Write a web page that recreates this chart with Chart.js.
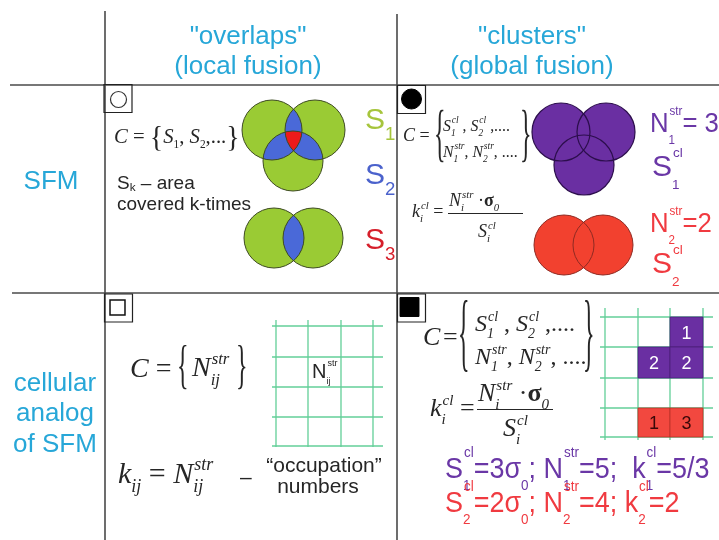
<!DOCTYPE html>
<html>
<head>
<meta charset="utf-8">
<title>SFM: overlaps and clusters</title>
<script src="https://cdn.jsdelivr.net/npm/chart.js@4.4.1/dist/chart.umd.min.js"></script>
<style>
  html, body { margin: 0; padding: 0; background: #fff; }
  #box { position: relative; width: 719px; height: 540px; }
</style>
</head>
<body>
<div id="box"><canvas id="scheme"></canvas></div>
<script>
// ---- scheme data (x, y in picture units, r = circle radius) ----
const overlapCircles = [
  { x: 272, y: 130, r: 30 }, { x: 315, y: 130, r: 30 }, { x: 293, y: 161, r: 30 },
  { x: 274, y: 238, r: 30 }, { x: 313, y: 238, r: 30 }
];
const overlapPairs = [[0, 1], [0, 2], [1, 2], [3, 4]]; // area covered twice
const overlapTriples = [[0, 1, 2]];                    // area covered three times
const purpleCluster = [{ x: 561, y: 132, r: 29 }, { x: 606, y: 132, r: 29 }, { x: 584, y: 165, r: 30 }];
const redCluster = [{ x: 564, y: 245, r: 30 }, { x: 603, y: 245, r: 30 }];

// table frame: [x0, y0, x1, y1]
const frameLines = [[10, 85, 719, 85], [12, 293, 719, 293], [105, 11, 105, 540], [397, 14, 397, 540]];
// little marks in the corner of each cell
const cornerBoxes = [{ x: 118, y: 98.5 }, { x: 411.5, y: 99.5 }, { x: 118.5, y: 308 }, { x: 411.5, y: 308 }];
const openCircleMark = [{ x: 118.5, y: 99.5 }];
const fullCircleMark = [{ x: 411.5, y: 99 }];
const openSquareMark = [{ x: 117.5, y: 307.5 }];
const fullSquareMark = [{ x: 409.5, y: 307 }];

// lattices (cellular analog)
const latticeA = { xs: [276, 308, 341, 373], ys: [326, 357, 387, 417, 446], x0: 272, x1: 383, y0: 320, y1: 447 };
const latticeB = { xs: [605, 638, 670, 703], ys: [317, 347, 378, 408, 437], x0: 600, x1: 713, y0: 308, y1: 440 };
// occupied cells of lattice B
const cellCol = [2, 1, 2, 1, 2];
const cellRow = [0, 1, 1, 3, 3];
const cellCount = ['1', '2', '2', '1', '3'];
const cellCluster = [1, 1, 1, 2, 2];

// ---- look ----
const SANS = '"Liberation Sans", Arial, sans-serif';
const SERIF = '"Liberation Serif", "Times New Roman", serif';
const CYAN = '#27a7d8';
const INK = '#262626';
const PURPLE = '#6a2fa2';
const RED = '#f2412f';
const PURPLE_T = '#6a37a6';
const RED_T = '#f03a40';

const styles = {
  head: { size: 26, fam: SANS, color: CYAN },
  m22: { size: 22, fam: SERIF, color: INK, sc: 0.55, up: 0.42, dn: 0.22, hx: 0.94 },
  m17: { size: 17, fam: SERIF, color: INK, sc: 0.6, up: 0.45, dn: 0.3, sit: true, hx: 0.93 },
  m18: { size: 18, fam: SERIF, color: INK, sc: 0.6, up: 0.45, dn: 0.3, sit: true },
  m24: { size: 24, fam: SERIF, color: INK, sc: 0.58, up: 0.42, dn: 0.3, sit: true },
  m26: { size: 26, fam: SERIF, color: INK, sc: 0.58, up: 0.42, dn: 0.3, sit: true },
  m28: { size: 28, fam: SERIF, color: INK, sc: 0.6, up: 0.42, dn: 0.32, sit: true },
  m30: { size: 30, fam: SERIF, color: INK, sc: 0.6, up: 0.42, dn: 0.3, sit: true },
  s19: { size: 19, fam: SANS, color: INK, sc: 0.62, up: 0.4, dn: 0.08 },
  s20: { size: 20, fam: SANS, color: INK, sc: 0.45, up: 0.6, dn: 0.3 },
  s21: { size: 21, fam: SANS, color: INK },
  s28: { size: 28, fam: SANS, color: PURPLE_T, sc: 0.45, up: 0.62, dn: 0.42, hx: 0.92 },
  s30: { size: 30, fam: SANS, color: INK, sc: 0.62, up: 0.62, dn: 0.38 },
  s29: { size: 29, fam: SANS, color: PURPLE_T, sc: 0.5, up: 0.72, dn: 0.42, hx: 0.93 }
};

const notes = [
  // headers
  { s: 'head', a: 'c', x: 248, y: 44, p: ['"overlaps"'] },
  { s: 'head', a: 'c', x: 248, y: 74, p: ['(local fusion)'] },
  { s: 'head', a: 'c', x: 532, y: 44, p: ['"clusters"'] },
  { s: 'head', a: 'c', x: 532, y: 74, p: ['(global fusion)'] },
  { s: 'head', a: 'c', x: 51, y: 189, p: ['SFM'] },
  { s: 'head', a: 'c', x: 55, y: 391, p: ['cellular'] },
  { s: 'head', a: 'c', x: 55, y: 421, p: ['analog'] },
  { s: 'head', a: 'c', x: 55, y: 452, p: ['of SFM'] },
  // overlaps
  { s: 'm22', x: 114, y: 143, p: [{ t: 'C', it: 1 }, ' = ', { t: '{', k: 1.35, dy: 3 }, { t: 'S', it: 1, sub: '1' }, ', ', { t: 'S', it: 1, sub: '2' }, ',...', { t: '}', k: 1.35, dy: 3 }] },
  { s: 's19', x: 117, y: 189, p: [{ t: 'S', sub: 'k' }, ' \u2013 area'] },
  { s: 's19', x: 117, y: 210, p: ['covered k-times'] },
  { s: 's30', c: '#a6c53c', x: 365, y: 129, p: [{ t: 'S', sub: '1' }] },
  { s: 's30', c: '#4b62cc', x: 365, y: 184, p: [{ t: 'S', sub: '2' }] },
  { s: 's30', c: '#d61f2b', x: 365, y: 249, p: [{ t: 'S', sub: '3' }] },
  // clusters
  { s: 'm18', x: 403, y: 141, p: [{ t: 'C', it: 1 }, ' ='] },
  { brace: '{', x: 434, y0: 112, y1: 165 },
  { s: 'm17', x: 443, y: 131, p: [{ t: 'S', it: 1, sub: '1', sup: 'cl' }, ' , ', { t: 'S', it: 1, sub: '2', sup: 'cl' }, ' ,....'] },
  { s: 'm17', x: 443, y: 157, p: [{ t: 'N', it: 1, sub: '1', sup: 'str' }, ', ', { t: 'N', it: 1, sub: '2', sup: 'str' }, ', ....'] },
  { brace: '}', x: 520, y0: 112, y1: 165 },
  { s: 'm18', x: 412, y: 217, p: [{ t: 'k', it: 1, sub: 'i', sup: 'cl' }, ' ='] },
  { s: 'm18', x: 449, y: 206, p: [{ t: 'N', it: 1, sub: 'i', sup: 'str' }, ' \u00b7', { t: '\u03c3', b: 1, sub: '0' }] },
  { bar: 1, x0: 448, x1: 523, y: 213 },
  { s: 'm18', x: 478, y: 237, p: [{ t: 'S', it: 1, sub: 'i', sup: 'cl' }] },
  { s: 's28', x: 650, y: 132, p: [{ t: 'N', sub: '1', sup: 'str' }, '= 3'] },
  { s: 's28', x: 652, y: 176, o: { size: 30, hx: 1 }, p: [{ t: 'S', sub: '1', sup: 'cl' }] },
  { s: 's28', c: RED_T, x: 650, y: 232, p: [{ t: 'N', sub: '2', sup: 'str' }, '=2'] },
  { s: 's28', c: RED_T, x: 652, y: 273, o: { size: 30, hx: 1 }, p: [{ t: 'S', sub: '2', sup: 'cl' }] },
  // cellular overlaps
  { s: 'm28', x: 130, y: 377, p: [{ t: 'C', it: 1 }, ' = '] },
  { brace: '{', x: 177, y0: 347, y1: 391 },
  { s: 'm28', x: 192, y: 376, p: [{ t: 'N', it: 1, sub: 'ij', sup: 'str' }] },
  { brace: '}', x: 236, y0: 347, y1: 391 },
  { s: 's20', x: 312, y: 378, p: [{ t: 'N', sub: 'ij', sup: 'str' }] },
  { s: 'm30', x: 118, y: 483, p: [{ t: 'k', it: 1, sub: 'ij' }, ' = ', { t: 'N', it: 1, sub: 'ij', sup: 'str' }] },
  { s: 's21', x: 240, y: 484, p: ['\u2013'] },
  { s: 's21', a: 'c', x: 324, y: 472, p: ['\u201coccupation\u201d'] },
  { s: 's21', a: 'c', x: 318, y: 493, p: ['numbers'] },
  // cellular clusters
  { s: 'm26', x: 423, y: 345, p: [{ t: 'C', it: 1 }] },
  { s: 'm26', x: 443, y: 345, p: ['='] },
  { brace: '{', x: 458, y0: 302, y1: 374 },
  { s: 'm24', x: 475, y: 331, p: [{ t: 'S', it: 1, sub: '1', sup: 'cl' }, ' , ', { t: 'S', it: 1, sub: '2', sup: 'cl' }, ' ,....'] },
  { s: 'm24', x: 475, y: 364, p: [{ t: 'N', it: 1, sub: '1', sup: 'str' }, ', ', { t: 'N', it: 1, sub: '2', sup: 'str' }, ', ....'] },
  { brace: '}', x: 583, y0: 302, y1: 374 },
  { s: 'm26', x: 430, y: 416, p: [{ t: 'k', it: 1, sub: 'i', sup: 'cl' }, ' ='] },
  { s: 'm26', x: 478, y: 401, p: [{ t: 'N', it: 1, sub: 'i', sup: 'str' }, ' \u00b7', { t: '\u03c3', b: 1, sub: '0' }] },
  { bar: 1, x0: 477, x1: 553, y: 409 },
  { s: 'm26', x: 503, y: 436, p: [{ t: 'S', it: 1, sub: 'i', sup: 'cl' }] },
  { s: 's29', x: 445, y: 478, p: [{ t: 'S', sub: '1', sup: 'cl' }, { t: '=3\u03c3', sub: '0' }, { t: '; N', sub: '1', sup: 'str' }, { t: '=5;  k', sub: '1', sup: 'cl' }, '=5/3'] },
  { s: 's29', c: RED_T, x: 445, y: 512, p: [{ t: 'S', sub: '2', sup: 'cl' }, { t: '=2\u03c3', sub: '0' }, { t: '; N', sub: '2', sup: 'str' }, { t: '=4; k', sub: '2', sup: 'cl' }, '=2'] }
];

// draws (or just measures) a line of text with stacked sub/superscripts
function rich(ctx, parts, s, x, y, draw) {
  let cx = x;
  parts.forEach(part => {
    const p = typeof part === 'string' ? { t: part } : part;
    const it = p.it !== undefined ? p.it : s.it;
    if (p.t) {
      ctx.font = (it ? 'italic ' : '') + (p.b ? 'bold ' : '') + s.size * (p.k || 1) + 'px ' + s.fam;
      if (draw) ctx.fillText(p.t, cx, y + (p.dy || 0));
      cx += ctx.measureText(p.t).width;
    }
    if (p.sub || p.sup) {
      ctx.font = (s.sit ? 'italic ' : '') + s.size * s.sc + 'px ' + s.fam;
      let w = 0;
      if (p.sup) {
        if (draw) ctx.fillText(p.sup, cx + 1, y - s.size * s.up);
        w = ctx.measureText(p.sup).width + 1;
      }
      if (p.sub) {
        if (draw) ctx.fillText(p.sub, cx, y + s.size * s.dn);
        w = Math.max(w, ctx.measureText(p.sub).width);
      }
      cx += w;
    }
  });
  return cx - x;
}

function brace(ctx, ch, px, top, bottom) {
  ctx.font = '30px ' + SERIF;
  const m = ctx.measureText(ch);
  const h = m.actualBoundingBoxAscent + m.actualBoundingBoxDescent;
  ctx.save();
  ctx.translate(px, top);
  ctx.scale(0.8, (bottom - top) / h);
  ctx.fillText(ch, 0, m.actualBoundingBoxAscent);
  ctx.restore();
}

// S2 / S3 areas of the overlap picture, clipped from the drawn circles
const lensPlugin = {
  id: 'lenses',
  afterDatasetDraw(chart, args) {
    if (chart.data.datasets[args.index].label !== 'overlap fill') return;
    const ctx = chart.ctx;
    const pts = args.meta.data;
    const path = i => { ctx.beginPath(); ctx.arc(pts[i].x, pts[i].y, pts[i].options.radius, 0, Math.PI * 2); };
    ctx.save();
    overlapPairs.forEach(([a, b]) => {
      ctx.save(); path(a); ctx.clip(); path(b); ctx.fillStyle = '#4a69d8'; ctx.fill(); ctx.restore();
    });
    overlapTriples.forEach(([a, b, c]) => {
      ctx.save(); path(a); ctx.clip(); path(b); ctx.clip(); path(c); ctx.fillStyle = '#ee1a1a'; ctx.fill(); ctx.restore();
    });
    ctx.restore();
  }
};

const notesPlugin = {
  id: 'notes',
  afterDatasetsDraw(chart) {
    const { ctx, scales: { x, y } } = chart;
    ctx.save();
    ctx.textBaseline = 'alphabetic';
    ctx.textAlign = 'left';

    // occupied lattice cells
    cellCol.forEach((c, i) => {
      const x0 = x.getPixelForValue(latticeB.xs[c]), x1 = x.getPixelForValue(latticeB.xs[c + 1]);
      const y0 = y.getPixelForValue(latticeB.ys[cellRow[i]]), y1 = y.getPixelForValue(latticeB.ys[cellRow[i] + 1]);
      ctx.fillStyle = cellCluster[i] === 1 ? PURPLE : '#f2483f';
      ctx.fillRect(x0, y0, x1 - x0, y1 - y0);
      ctx.strokeStyle = cellCluster[i] === 1 ? '#4b1f78' : '#b83028';
      ctx.lineWidth = 0.8;
      ctx.strokeRect(x0, y0, x1 - x0, y1 - y0);
      ctx.fillStyle = cellCluster[i] === 1 ? '#fff' : '#3a0808';
      ctx.font = '18px ' + SANS;
      ctx.textAlign = 'center';
      ctx.fillText(cellCount[i], (x0 + x1) / 2, (y0 + y1) / 2 + 6.5);
      ctx.textAlign = 'left';
    });

    notes.forEach(n => {
      if (n.bar) {
        ctx.strokeStyle = INK;
        ctx.lineWidth = 1;
        ctx.beginPath();
        ctx.moveTo(x.getPixelForValue(n.x0), y.getPixelForValue(n.y) + 0.5);
        ctx.lineTo(x.getPixelForValue(n.x1), y.getPixelForValue(n.y) + 0.5);
        ctx.stroke();
        return;
      }
      if (n.brace) {
        ctx.fillStyle = INK;
        brace(ctx, n.brace, x.getPixelForValue(n.x), y.getPixelForValue(n.y0), y.getPixelForValue(n.y1));
        return;
      }
      const s = Object.assign({}, styles[n.s], n.o || {});
      const hx = s.hx || 1;
      ctx.fillStyle = n.c || s.color;
      const px = x.getPixelForValue(n.x), py = y.getPixelForValue(n.y);
      const w = rich(ctx, n.p, s, 0, 0, false) * hx;
      ctx.save();
      ctx.translate(n.a === 'c' ? px - w / 2 : px, py);
      ctx.scale(hx, 1);
      rich(ctx, n.p, s, 0, 0, true);
      ctx.restore();
    });
    ctx.restore();
  }
};

// ---- datasets ----
const segment = (g, color, width, order) => ({
  type: 'scatter', showLine: true,
  data: [{ x: g[0], y: g[1] }, { x: g[2], y: g[3] }],
  borderColor: color, borderWidth: width, pointRadius: 0, order
});
const latticeSegments = L => [
  ...L.xs.map(v => [v, L.y0, v, L.y1]),
  ...L.ys.map(v => [L.x0, v, L.x1, v])
];
const mark = (data, style, radius, fill, border, width) => ({
  type: 'scatter', data, pointStyle: style, pointRadius: radius,
  pointBackgroundColor: fill, pointBorderColor: border, pointBorderWidth: width, order: 2
});

const datasets = [
  ...frameLines.map(g => segment(g, '#4a4a4a', 1.6, 10)),
  ...latticeSegments(latticeA).map(g => segment(g, '#63cf98', 1.3, 9)),
  ...latticeSegments(latticeB).map(g => segment(g, '#63cf98', 1.3, 9)),
  { type: 'bubble', label: 'overlap fill', data: overlapCircles, backgroundColor: '#9acb34', borderWidth: 0, order: 8 },
  { type: 'bubble', label: 'overlap rim', data: overlapCircles, backgroundColor: 'rgba(0,0,0,0)', borderColor: '#3d4a22', borderWidth: 1, order: 6 },
  { type: 'bubble', label: 'cluster 1', data: purpleCluster, backgroundColor: PURPLE, borderWidth: 0, order: 8 },
  { type: 'bubble', label: 'cluster 1 rim', data: purpleCluster, backgroundColor: 'rgba(0,0,0,0)', borderColor: '#2c0e4c', borderWidth: 1.2, order: 6 },
  { type: 'bubble', label: 'cluster 2', data: redCluster, backgroundColor: RED, borderWidth: 0, order: 8 },
  { type: 'bubble', label: 'cluster 2 rim', data: redCluster, backgroundColor: 'rgba(0,0,0,0)', borderColor: '#8e2a22', borderWidth: 1, order: 6 },
  mark(cornerBoxes, 'rect', 19.8, 'rgba(0,0,0,0)', '#222', 1.2),
  mark(openCircleMark, 'circle', 8, '#fff', '#333', 1.2),
  mark(fullCircleMark, 'circle', 10, '#000', '#000', 1),
  mark(openSquareMark, 'rect', 10.6, '#fff', '#111', 1.5),
  mark(fullSquareMark, 'rect', 13.4, '#000', '#000', 1)
];

new Chart(document.getElementById('scheme'), {
  type: 'scatter',
  data: { datasets },
  options: {
    responsive: true,
    maintainAspectRatio: false,
    animation: false,
    events: [],
    layout: { padding: 0, autoPadding: false },
    plugins: { legend: { display: false }, tooltip: { enabled: false } },
    scales: {
      x: { type: 'linear', min: 0, max: 719, display: false },
      y: { type: 'linear', min: 0, max: 540, reverse: true, display: false }
    }
  },
  plugins: [lensPlugin, notesPlugin]
});
</script>
</body>
</html>
